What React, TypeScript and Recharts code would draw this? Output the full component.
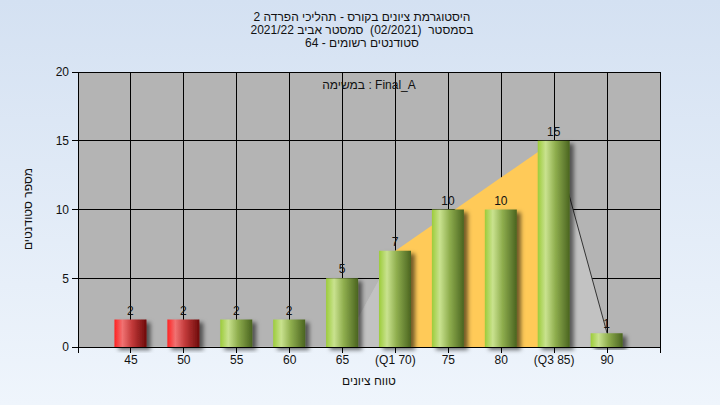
import React from "react";
import {
  ComposedChart,
  Bar,
  Area,
  Cell,
  XAxis,
  YAxis,
  CartesianGrid,
  LabelList,
} from "recharts";

// grade buckets and how many students landed in each
const grades = [45, 50, 55, 60, 65, 70, 75, 80, 85, 90];
const counts = [2, 2, 2, 2, 5, 7, 10, 10, 15, 1];
const gradeLabels = ["45", "50", "55", "60", "65", "(Q1 70)", "75", "80", "(Q3 85)", "90"];
const passMark = 55;

// the distribution shape drawn behind the bars
const lowCurve = [0, 0, 0, 0, 0, 7, null, null, null, null];
const quartileCurve = [null, null, null, null, null, 7, null, null, 15, null];
const highCurve = [null, null, null, null, null, null, null, null, 15, 1];

const xTicks = [40, 45, 50, 55, 60, 65, 70, 75, 80, 85, 90, 95];
const yTicks = [0, 5, 10, 15, 20];

const titleLines = [
  "היסטוגרמת ציונים בקורס - תהליכי הפרדה 2",
  "בסמסטר  (02/2021)  סמסטר אביב 2021/22",
  "סטודנטים רשומים - 64",
];

const FONT = `"Liberation Sans", Arial, sans-serif`;

const data = grades.map((g, i) => ({
  grade: g,
  count: counts[i],
  low: lowCurve[i],
  quart: quartileCurve[i],
  high: highCurve[i],
}));

function tickLabel(v: number) {
  const idx = grades.indexOf(v);
  return idx >= 0 ? gradeLabels[idx] : "";
}

const tickStyle = { fontFamily: FONT, fontSize: 12, fill: "#111" };
const axisLine = { stroke: "#000", shapeRendering: "crispEdges" };
const tickLine = { stroke: "#000", shapeRendering: "crispEdges" };

export default function App() {
  return (
    <div
      style={{
        position: "absolute",
        left: 0,
        top: 0,
        width: 720,
        height: 405,
        background: "linear-gradient(#d4e1f2, #eff5fc)",
        fontFamily: FONT,
        color: "#111",
      }}
    >
      <div
        dir="rtl"
        style={{
          position: "absolute",
          top: 11,
          left: 0,
          width: 724,
          textAlign: "center",
          fontSize: 12,
          lineHeight: "13px",
          whiteSpace: "pre",
        }}
      >
        {titleLines.map((t, i) => (
          <div key={i}>{t}</div>
        ))}
      </div>

      <ComposedChart
        width={720}
        height={405}
        data={data}
        margin={{ top: 72, right: 30, bottom: 28, left: 48 }}
        style={{ position: "absolute", left: 0, top: 0 }}
      >
        <defs>
          <linearGradient id="greenBar" x1="0" y1="0" x2="1" y2="0">
            <stop offset="0%" stopColor="#9ccc3a" />
            <stop offset="25%" stopColor="#c9e28f" />
            <stop offset="55%" stopColor="#8fae4e" />
            <stop offset="100%" stopColor="#4a6420" />
          </linearGradient>
          <linearGradient id="redBar" x1="0" y1="0" x2="1" y2="0">
            <stop offset="0%" stopColor="#ff2222" />
            <stop offset="25%" stopColor="#f07272" />
            <stop offset="55%" stopColor="#c23a3a" />
            <stop offset="100%" stopColor="#6e0a0a" />
          </linearGradient>
          <filter id="barShadow" x="-20%" y="-20%" width="160%" height="140%">
            <feDropShadow dx="4" dy="3" stdDeviation="2" floodColor="#000" floodOpacity="0.55" />
          </filter>
        </defs>
        <CartesianGrid
          yAxisId="left"
          stroke="#000"
          fill="#b4b4b4"
          fillOpacity={1}
          shapeRendering="crispEdges"
        />
        <XAxis
          dataKey="grade"
          type="number"
          domain={[40, 95]}
          ticks={xTicks}
          tickFormatter={tickLabel}
          interval={0}
          tick={tickStyle}
          axisLine={axisLine}
          tickLine={tickLine}
          tickSize={6}
          tickMargin={2}
          height={30}
        />
        <YAxis
          yAxisId="left"
          domain={[0, 20]}
          ticks={yTicks}
          tick={tickStyle}
          axisLine={axisLine}
          tickLine={tickLine}
          tickSize={6}
          tickMargin={3}
          width={30}
        />
        <YAxis
          yAxisId="right"
          orientation="right"
          domain={[0, 20]}
          ticks={yTicks}
          tick={tickStyle}
          axisLine={axisLine}
          tickLine={tickLine}
          tickSize={6}
          tickMargin={3}
          width={30}
        />
        <Area
          yAxisId="left"
          dataKey="low"
          type="linear"
          stroke="#c2c2c2"
          fill="#c2c2c2"
          fillOpacity={1}
          isAnimationActive={false}
        />
        <Area
          yAxisId="left"
          dataKey="quart"
          type="linear"
          connectNulls
          stroke="none"
          fill="#ffca58"
          fillOpacity={1}
          isAnimationActive={false}
        />
        <Area
          yAxisId="left"
          dataKey="high"
          type="linear"
          stroke="#333"
          strokeWidth={1}
          fill="#c2c2c2"
          fillOpacity={1}
          isAnimationActive={false}
        />
        <Bar
          yAxisId="left"
          dataKey="count"
          barSize={32}
          filter="url(#barShadow)"
          isAnimationActive={false}
        >
          {data.map((d, i) => (
            <Cell
              key={i}
              fill={d.grade < passMark ? "url(#redBar)" : "url(#greenBar)"}
              filter="url(#barShadow)"
            />
          ))}
          <LabelList
            dataKey="count"
            position="top"
            offset={5}
            style={{ fontFamily: FONT, fontSize: 12, fill: "#111" }}
          />
        </Bar>
      </ComposedChart>

      <div
        style={{
          position: "absolute",
          top: 78,
          left: 269,
          width: 200,
          textAlign: "center",
          fontSize: 12,
        }}
      >
        במשימה : Final_A
      </div>

      <div
        dir="rtl"
        style={{
          position: "absolute",
          top: 374,
          left: 269,
          width: 200,
          textAlign: "center",
          fontSize: 12,
        }}
      >
        טווח ציונים
      </div>

      <div
        dir="rtl"
        style={{
          position: "absolute",
          top: 202,
          left: -72,
          width: 200,
          textAlign: "center",
          fontSize: 12,
          transform: "rotate(-90deg)",
        }}
      >
        מספר סטודנטים
      </div>
    </div>
  );
}
